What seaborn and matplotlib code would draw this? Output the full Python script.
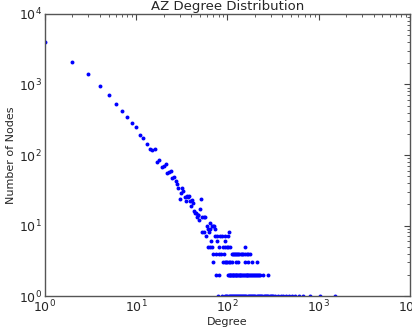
#!/usr/bin/env python3
"""
Degree distribution of the AZ graph, log-log scatter.
"""

import pandas as pd
import matplotlib
matplotlib.use("Agg")
import matplotlib.pyplot as plt
import seaborn as sns

# low degrees: one point per degree
seq_degrees = list(range(1, 53))
seq_counts = [4000, 2100, 1400, 960, 710, 530, 425, 350, 280, 250,
              194, 174, 142, 122, 117, 120, 80, 86, 68, 69,
              74, 55, 58, 60, 47, 49, 43, 39, 34, 24,
              29, 34, 31, 25, 22, 26, 25, 26, 22, 19,
              23, 21, 16, 15, 15, 13, 14, 14, 12, 17,
              24, 13]

# higher degrees, grouped by node count (they fall on flat rows)
rows = {
    13: [55, 57],
    11: [64],
    10: [59, 67, 70, 72],
    9: [62, 65, 74],
    8: [53, 56, 63, 103],
    7: [58, 73, 77, 82, 88, 95, 101],
    6: [66, 76, 93],
    5: [61, 64, 68, 81, 90, 94, 98, 102, 106, 155],
    4: [70, 75, 80, 85, 92, 112, 114, 117, 120, 123, 127, 131, 135,
        140, 145, 150, 156, 163, 170, 176],
    3: [69, 90, 93, 96, 99, 103, 106, 111, 123, 131, 155, 167, 184, 212],
    2: [75, 81, 102, 104, 106, 108, 110, 112, 114, 116, 118, 121, 123,
        125, 128, 131, 133, 136, 139, 142, 145, 148, 151, 154, 158, 162,
        165, 169, 173, 177, 181, 185, 190, 195, 199, 204, 209, 214, 220,
        227, 247, 280],
    1: [79, 87, 94, 97, 100, 103, 106, 109, 112, 115, 118, 121, 124, 127,
        130, 134, 137, 141, 145, 149, 153, 157, 161, 166, 171, 176, 181,
        186, 191, 197, 203, 209, 215, 221, 228, 235, 242, 249, 257, 265,
        273, 281, 290, 299, 308, 318, 328, 362, 385, 410, 437, 468, 512,
        552, 612, 668, 801, 1031, 1498],
}

degrees = list(seq_degrees)
counts = list(seq_counts)
for c, ds in rows.items():
    degrees += ds
    counts += [c] * len(ds)
df = pd.DataFrame({"degree": degrees, "count": counts})

sns.set_style("white")
plt.rcParams["font.family"] = ["DejaVu Sans"]
plt.rcParams["xtick.direction"] = "in"
plt.rcParams["ytick.direction"] = "in"

fig = plt.figure(figsize=(4.12, 3.33), dpi=100)
ax = fig.add_axes([0.109, 0.111, 0.886, 0.847])

sns.scatterplot(data=df, x="degree", y="count", ax=ax, color="#0000ff",
                s=8, edgecolor="#0000ff", linewidth=0, clip_on=True)

ax.set_xscale("log")
ax.set_yscale("log")
ax.set_xlim(1, 1e4)
ax.set_ylim(1, 1e4)

ax.tick_params(which="both", top=True, right=True, labelsize=9, color="#444444",
               pad=2)
ax.tick_params(which="major", length=4)
ax.tick_params(which="minor", length=2)
for s in ax.spines.values():
    s.set_color("#555555")
    s.set_linewidth(1)

ax.set_title("AZ Degree Distribution", fontsize=9.5, pad=3)
ax.set_xlabel("Degree", fontsize=8, labelpad=1)
ax.set_ylabel("Number of Nodes", fontsize=8, labelpad=2)

plt.savefig("out.png", dpi=100)
plt.close()
